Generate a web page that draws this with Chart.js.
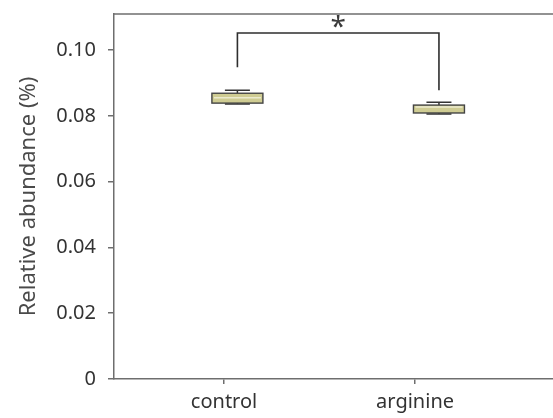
<!DOCTYPE html>
<html lang="en">
<head>
    <meta charset="UTF-8">
    <title>Relative abundance</title>
    <style>
        body {
            margin: 0;
            background: #ffffff;
        }

        #chartContainer {
            position: relative;
            width: 553px;
            height: 418px;
        }
    </style>
</head>
<body>

    <div id="chartContainer">
        <canvas id="abundanceChart"></canvas>
    </div>

    <script src="https://cdn.jsdelivr.net/npm/chart.js"></script>

    <script>
        // groups and box plot summaries (relative abundance, %)
        const categories = ['control', 'arginine'];
        const boxMin    = [0.0836, 0.0806];
        const boxQ1     = [0.0839, 0.0809];
        const boxMedian = [0.0855, 0.0827];
        const boxQ3     = [0.0869, 0.0833];
        const boxMax    = [0.0878, 0.0842];
        // where each box sits on the x scale (ticks are at 1 and 2)
        const boxX = [1.07, 2.125];

        const yTicks = [0, 0.02, 0.04, 0.06, 0.08, 0.10];

        // significance bracket: bar height and the bottom of each leg
        const sigBarY = 0.1052;
        const sigLegEnd = [0.0948, 0.0878];
        const sigLabel = '*';

        const fontFamily = '"Noto Sans", sans-serif';
        const axisColor = '#6e6e6e';

        const boxPlotPlugin = {
            id: 'boxPlot',
            afterDatasetsDraw(chart) {
                const ctx = chart.ctx;
                const x = chart.scales.x;
                const y = chart.scales.y;
                const area = chart.chartArea;
                const boxHalf = 25.5;
                const capHalf = 12.5;

                ctx.save();

                // top frame line
                ctx.strokeStyle = axisColor;
                ctx.lineWidth = 1.5;
                ctx.beginPath();
                ctx.moveTo(area.left, area.top);
                ctx.lineTo(area.right, area.top);
                ctx.stroke();

                categories.forEach((name, i) => {
                    const cx = x.getPixelForValue(boxX[i]);
                    const yMin = y.getPixelForValue(boxMin[i]);
                    const yQ1 = y.getPixelForValue(boxQ1[i]);
                    const yMed = y.getPixelForValue(boxMedian[i]);
                    const yQ3 = y.getPixelForValue(boxQ3[i]);
                    const yMax = y.getPixelForValue(boxMax[i]);

                    // whiskers
                    ctx.strokeStyle = '#333333';
                    ctx.lineWidth = 1.5;
                    ctx.beginPath();
                    ctx.moveTo(cx, yMax);
                    ctx.lineTo(cx, yQ3);
                    ctx.moveTo(cx, yQ1);
                    ctx.lineTo(cx, yMin);
                    ctx.moveTo(cx - capHalf, yMax);
                    ctx.lineTo(cx + capHalf, yMax);
                    ctx.moveTo(cx - capHalf, yMin);
                    ctx.lineTo(cx + capHalf, yMin);
                    ctx.stroke();

                    // box
                    ctx.fillStyle = '#cfcc93';
                    ctx.fillRect(cx - boxHalf, yQ3, boxHalf * 2, yQ1 - yQ3);
                    ctx.strokeStyle = '#ecebcf';
                    ctx.lineWidth = 1.5;
                    ctx.beginPath();
                    ctx.moveTo(cx - boxHalf + 2, yMed);
                    ctx.lineTo(cx + boxHalf - 2, yMed);
                    ctx.stroke();
                    ctx.strokeStyle = '#444444';
                    ctx.lineWidth = 1.4;
                    ctx.strokeRect(cx - boxHalf, yQ3, boxHalf * 2, yQ1 - yQ3);
                });

                // significance bracket
                const xl = x.getPixelForValue(boxX[0]);
                const xr = x.getPixelForValue(boxX[1]);
                const yb = y.getPixelForValue(sigBarY);
                ctx.strokeStyle = '#2e2e2e';
                ctx.lineWidth = 1.6;
                ctx.beginPath();
                ctx.moveTo(xl, y.getPixelForValue(sigLegEnd[0]));
                ctx.lineTo(xl, yb);
                ctx.lineTo(xr, yb);
                ctx.lineTo(xr, y.getPixelForValue(sigLegEnd[1]));
                ctx.stroke();

                ctx.fillStyle = '#3a3a3a';
                ctx.font = '28px ' + fontFamily;
                ctx.textAlign = 'center';
                ctx.textBaseline = 'alphabetic';
                ctx.fillText(sigLabel, (xl + xr) / 2, yb + 3);

                ctx.restore();
            }
        };

        const ctx = document.getElementById('abundanceChart').getContext('2d');

        const abundanceChart = new Chart(ctx, {
            type: 'scatter',
            data: {
                datasets: []
            },
            options: {
                responsive: true,
                maintainAspectRatio: false,
                animation: false,
                layout: {
                    padding: { top: 14, right: 0, left: 0, bottom: 0 }
                },
                plugins: {
                    legend: { display: false },
                    tooltip: { enabled: false }
                },
                scales: {
                    x: {
                        type: 'linear',
                        min: 0.424,
                        max: 2.722,
                        afterBuildTicks: (scale) => {
                            scale.ticks = categories.map((c, i) => ({ value: i + 1 }));
                        },
                        afterFit: (scale) => {
                            scale.height = 39;
                            scale.paddingLeft = 0;
                            scale.paddingRight = 0;
                        },
                        grid: {
                            drawOnChartArea: false,
                            drawTicks: true,
                            tickLength: 5,
                            color: axisColor,
                            lineWidth: 1.5
                        },
                        border: {
                            color: axisColor,
                            width: 1.5
                        },
                        ticks: {
                            color: '#333333',
                            padding: 6,
                            font: { family: fontFamily, size: 20 },
                            callback: (value) => categories[value - 1]
                        }
                    },
                    y: {
                        type: 'linear',
                        min: 0,
                        max: 0.111,
                        afterBuildTicks: (scale) => {
                            scale.ticks = yTicks.map(v => ({ value: v }));
                        },
                        afterFit: (scale) => {
                            scale.width = 114;
                            scale.paddingTop = 0;
                            scale.paddingBottom = 0;
                        },
                        grid: {
                            drawOnChartArea: false,
                            drawTicks: true,
                            tickLength: 6,
                            color: axisColor,
                            lineWidth: 1.5
                        },
                        border: {
                            color: axisColor,
                            width: 1.5
                        },
                        ticks: {
                            color: '#333333',
                            padding: 12,
                            font: { family: fontFamily, size: 20 },
                            callback: (value) => value === 0 ? '0' : value.toFixed(2)
                        },
                        title: {
                            display: true,
                            text: 'Relative abundance (%)',
                            color: '#4a4a4a',
                            padding: { top: 16, bottom: 0 },
                            font: { family: fontFamily, size: 22 }
                        }
                    }
                }
            },
            plugins: [boxPlotPlugin]
        });
    </script>
</body>
</html>
